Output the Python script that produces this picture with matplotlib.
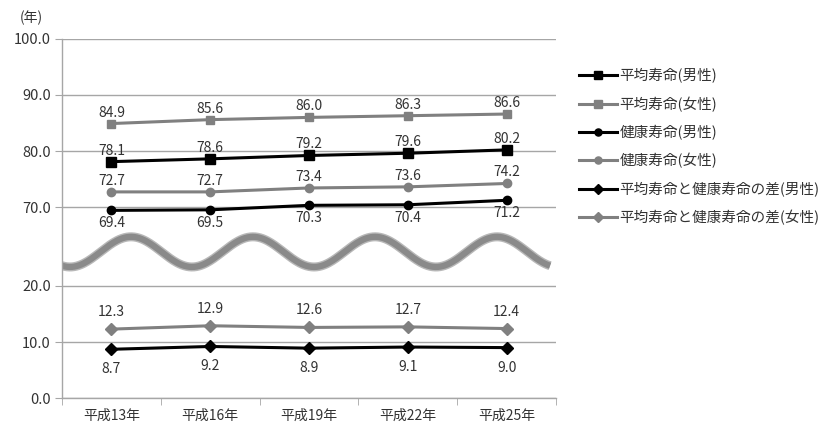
import matplotlib
matplotlib.use("Agg")
import matplotlib.pyplot as plt
import numpy as np
from matplotlib.lines import Line2D

plt.rcParams["font.family"] = ["Noto Sans CJK JP", "DejaVu Sans"]
plt.rcParams["font.size"] = 10

# ── Data ──
years = ["平成13年", "平成16年", "平成19年", "平成22年", "平成25年"]
life_m = [78.1, 78.6, 79.2, 79.6, 80.2]
life_f = [84.9, 85.6, 86.0, 86.3, 86.6]
health_m = [69.4, 69.5, 70.3, 70.4, 71.2]
health_f = [72.7, 72.7, 73.4, 73.6, 74.2]
gap_m = [8.7, 9.2, 8.9, 9.1, 9.0]
gap_f = [12.3, 12.9, 12.6, 12.7, 12.4]
names = ["平均寿命(男性)", "平均寿命(女性)", "健康寿命(男性)", "健康寿命(女性)",
         "平均寿命と健康寿命の差(男性)", "平均寿命と健康寿命の差(女性)"]
yticks = [0, 10, 20, 70, 80, 90, 100]

BLACK = "#000000"
GRAY = "#808080"
GRID = "#a6a6a6"
TEXT = "#333333"

# ── Broken axis as a piecewise-linear scale ──
LOW_TOP, HIGH_BOT, SHIFT = 20.0, 65.0, 34.1 - 70.0
MID_SPAN = (HIGH_BOT + SHIFT) - LOW_TOP


def fwd(y):
    y = np.asarray(y, dtype=float)
    return np.where(y <= LOW_TOP, y,
                    np.where(y >= HIGH_BOT, y + SHIFT,
                             LOW_TOP + (y - LOW_TOP) * MID_SPAN / (HIGH_BOT - LOW_TOP)))


def inv(v):
    v = np.asarray(v, dtype=float)
    return np.where(v <= LOW_TOP, v,
                    np.where(v >= HIGH_BOT + SHIFT, v - SHIFT,
                             LOW_TOP + (v - LOW_TOP) * (HIGH_BOT - LOW_TOP) / MID_SPAN))


fig = plt.figure(figsize=(8.28, 4.26), dpi=100)
fig.set_facecolor("white")
ax = fig.add_axes([0.0749, 0.0657, 0.5966, 0.8428])

ax.set_yscale("function", functions=(fwd, inv))
ax.set_ylim(0, 100)
ax.set_xlim(-0.5, 4.5)

for t in yticks:
    ax.axhline(t, color=GRID, lw=1.0, zorder=1)

# decorative wave marking the break
wx = np.linspace(0, 0.988, 400)
wy = 0.407 - 0.042 * np.cos(2 * np.pi * (wx * 494 - 8) / 122)
ax.plot(wx, wy, transform=ax.transAxes, color="#b8b8b8", lw=6.5,
        solid_capstyle="butt", zorder=2)
ax.plot(wx, wy, transform=ax.transAxes, color="#8a8a8a", lw=4.5,
        solid_capstyle="butt", zorder=2)

x = np.arange(len(years))
series = [life_m, life_f, health_m, health_f, gap_m, gap_f]
# (color, marker, size, label offset px)
styles = [
    (BLACK, "s", 6.5, 11),
    (GRAY, "s", 6, 11),
    (BLACK, "o", 6, -13),
    (GRAY, "o", 6, 11),
    (BLACK, "D", 6, -20),
    (GRAY, "D", 6, 17),
]

handles = []
for vals, name, (col, mk, ms, off) in zip(series, names, styles):
    ax.plot(x, vals, color=col, lw=2.2, marker=mk, ms=ms, zorder=4)
    handles.append(Line2D([0], [0], color=col, lw=2.2, marker=mk, ms=ms * 0.85, label=name))
    for xi, v in zip(x, vals):
        ax.annotate(f"{v:.1f}", (xi, v), xytext=(0, off * 0.72), textcoords="offset points",
                    ha="center", va="center", fontsize=10, color=TEXT, zorder=5)

ax.set_yticks(yticks)
ax.set_yticklabels([f"{t:.1f}" for t in yticks], color=TEXT, fontsize=10.5)
ax.set_xticks(x)
ax.set_xticklabels(years, color=TEXT, fontsize=10)
ax.set_xticks(np.arange(-0.5, 5, 1.0), minor=True)
ax.tick_params(axis="x", which="major", length=0, pad=8)
ax.tick_params(axis="x", which="minor", length=5, color=GRID, direction="out")
ax.tick_params(axis="y", length=5, color=GRID, direction="out", pad=3)
ax.yaxis.set_minor_locator(matplotlib.ticker.NullLocator())

for s in ["top", "right"]:
    ax.spines[s].set_visible(False)
ax.spines["left"].set_color(GRID)
ax.spines["bottom"].set_color(GRID)
ax.spines["left"].set_linewidth(1.0)
ax.spines["bottom"].set_linewidth(1.0)

fig.text(0.024, 0.958, "(年)", fontsize=10, color=TEXT, va="center")

fig.legend(handles=handles, loc="upper left", bbox_to_anchor=(0.692, 0.853),
           frameon=False, fontsize=10.5, handlelength=2.6, handletextpad=0.2,
           labelspacing=0.9, borderaxespad=0, labelcolor=TEXT)

fig.savefig("out.png", dpi=100)
